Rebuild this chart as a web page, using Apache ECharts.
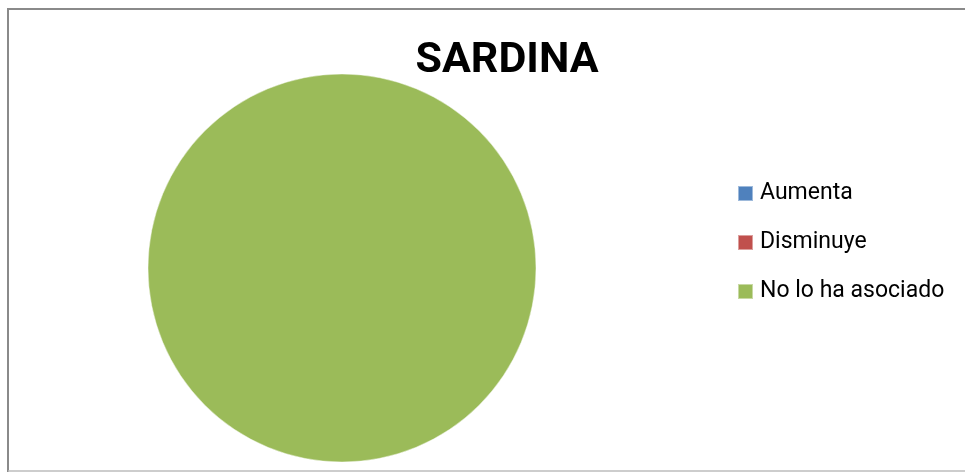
<!DOCTYPE html>
<html>
<head>
<meta charset="utf-8">
<script src="https://cdn.jsdelivr.net/npm/echarts@6/dist/echarts.min.js"></script>
<style>
  html, body { margin: 0; padding: 0; background: #ffffff; }
  #chart { width: 965px; height: 472px; }
</style>
</head>
<body>
<div id="chart"></div>
<script>
// Responses about the sardine
const categories = ['Aumenta', 'Disminuye', 'No lo ha asociado'];
const values = [0, 0, 100];
const colors = ['#4F81BD', '#C0504D', '#9BBB59'];
const chartTitle = 'SARDINA';

const chart = echarts.init(document.getElementById('chart'), null, { renderer: 'canvas' });

const pieData = categories.map((name, i) => ({
  name: name,
  value: values[i],
  itemStyle: { color: colors[i] }
}));

chart.setOption({
  animation: false,
  backgroundColor: '#ffffff',
  title: {
    text: chartTitle,
    left: 502,
    textAlign: 'center',
    top: 35,
    textStyle: {
      fontFamily: 'Roboto',
      fontWeight: 'bold',
      fontSize: 43,
      color: '#000000'
    }
  },
  legend: {
    orient: 'vertical',
    left: 737,
    top: 182,
    padding: 0,
    itemWidth: 15,
    itemHeight: 15,
    itemGap: 26,
    icon: 'rect',
    data: categories,
    textStyle: {
      fontFamily: 'Roboto',
      fontSize: 23,
      lineHeight: 20,
      color: '#000000',
      padding: [0, 0, 0, 2]
    }
  },
  graphic: [
    {
      type: 'polyline',
      shape: { points: [[8, 472], [8, 9], [965, 9]] },
      style: { stroke: '#8a8a8a', lineWidth: 2, fill: null },
      silent: true
    },
    {
      type: 'line',
      shape: { x1: 8, y1: 471, x2: 965, y2: 471 },
      style: { stroke: '#bdbdbd', lineWidth: 1.5 },
      silent: true
    }
  ],
  series: [
    {
      type: 'pie',
      center: [342, 268],
      radius: [0, 194],
      startAngle: 90,
      clockwise: true,
      label: { show: false },
      labelLine: { show: false },
      emphasis: { disabled: true },
      itemStyle: {
        borderColor: 'rgba(255,255,255,0.45)',
        borderWidth: 1
      },
      data: pieData
    }
  ]
});
</script>
</body>
</html>
